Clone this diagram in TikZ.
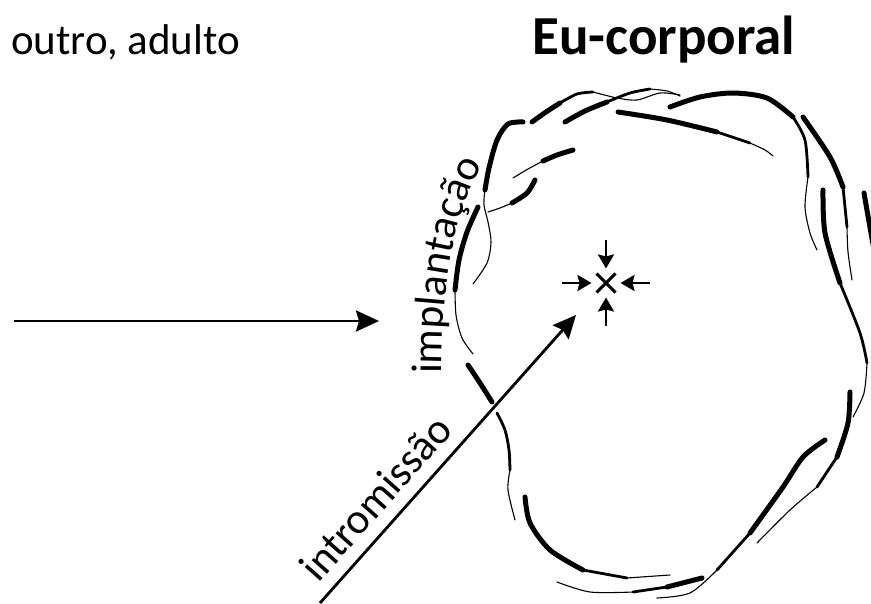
\documentclass[tikz,border=0pt]{standalone}
\usepackage{fontspec}
\setmainfont{Carlito}
\usetikzlibrary{arrows.meta,shapes.misc,decorations.text}

\begin{document}
\begin{tikzpicture}[
    x=1pt, y=-1pt,
every node/.style = {inner sep=0pt},
    heavyline/.style = {line width=5pt, line cap=round},
    midline/.style = {line width=2.8pt, line cap=round},
    fineline/.style = {line width=1.1pt, line cap=round},
    bigarrow/.style = {line width=2.8pt, -{Stealth[length=23pt,width=21pt,inset=3pt]}},
    smallarrow/.style = {line width=2.6pt, -{Stealth[length=14pt,width=16pt,inset=2pt]}, shorten >=5pt}]
\useasboundingbox (0,0) rectangle (871,604);

% titles
\node[anchor=base west, font=\fontsize{43}{50}\selectfont] (other) at (11,55) {outro, adulto};
\node[anchor=base west, font=\fontsize{55}{62}\selectfont\bfseries] (self) at (532,55) {Eu-corporal};

% outline of the body
\draw[heavyline] plot[smooth] coordinates {(523,122) (508,124) (497,140) (489,168) (485,190)};
\draw[fineline] plot[smooth] coordinates {(485,188) (484,205) (488,222) (491,242) (487,263) (473,284)};
\draw[heavyline] plot[smooth] coordinates {(478,207) (467,232) (459,260) (455,290)};
\draw[fineline] plot[smooth] coordinates {(455,288) (456,315) (462,338) (473,354)};

\draw[heavyline] plot[smooth] coordinates {(532,122) (546,112) (560,103)};
\draw[midline] plot[smooth] coordinates {(560,103) (577,94) (593,92)};
\draw[fineline] plot[smooth] coordinates {(593,92) (617,98) (637,100) (660,93) (680,95)};
\draw[heavyline] plot[smooth] coordinates {(565,122) (585,111) (607,102)};
\draw[midline] plot[smooth] coordinates {(607,102) (630,93) (650,89)};
\draw[fineline] plot[smooth] coordinates {(650,89) (667,91) (680,96)};

\draw[heavyline] plot[smooth] coordinates {(618,112) (667,120) (717,132)};
\draw[midline] plot[smooth] coordinates {(717,132) (750,143)};
\draw[fineline] plot[smooth] coordinates {(750,143) (765,150) (773,156)};

\draw[heavyline] plot[smooth] coordinates {(670,107) (700,97) (733,93) (767,98) (793,117)};
\draw[midline] plot[smooth] coordinates {(793,117) (805,140) (808,177)};
\draw[fineline] plot[smooth] coordinates {(808,177) (805,207) (810,233) (817,250)};

\draw[heavyline] plot[smooth] coordinates {(803,117) (830,157) (843,187)};
\draw[midline] plot[smooth] coordinates {(843,187) (847,227)};
\draw[fineline] plot[smooth] coordinates {(847,227) (848,252) (852,280)};

\draw[heavyline] plot[smooth] coordinates {(823,190) (825,233) (840,283)};
\draw[midline] plot[smooth] coordinates {(840,283) (860,333) (867,363)};
\draw[fineline] plot[smooth] coordinates {(867,363) (864,393) (853,417)};

\draw[heavyline] plot[smooth] coordinates {(864,193) (871,233) (875,255)};

\draw[heavyline] plot[smooth] coordinates {(573,150) (557,155) (543,161)};
\draw[fineline] plot[smooth] coordinates {(543,161) (528,169) (513,178)};
\draw[heavyline] plot[smooth] coordinates {(535,180) (527,193) (512,203)};
\draw[fineline] plot[smooth] coordinates {(512,203) (500,208) (488,212)};

\draw[heavyline] plot[smooth] coordinates {(468,365) (480,383) (492,402)};
\draw[midline] plot[smooth] coordinates {(497,413) (505,430) (509,450) (510,470)};
\draw[fineline] plot[smooth] coordinates {(510,470) (508,490) (515,520)};

\draw[heavyline] plot[smooth] coordinates {(525,497) (530,523) (550,550) (583,570)};
\draw[midline] plot[smooth] coordinates {(583,570) (627,578)};
\draw[fineline] plot[smooth] coordinates {(627,578) (670,575)};
\draw[fineline] plot[smooth] coordinates {(557,582) (590,592) (633,592)};
\draw[midline] plot[smooth] coordinates {(633,592) (667,587)};
\draw[heavyline] plot[smooth] coordinates {(667,587) (702,578)};

\draw[fineline] plot[smooth] coordinates {(657,598) (690,593) (717,570)};
\draw[midline] plot[smooth] coordinates {(717,570) (750,533)};
\draw[heavyline] plot[smooth] coordinates {(750,533) (783,487) (803,457) (825,440)};

\draw[heavyline] plot[smooth] coordinates {(850,392) (848,423) (837,457)};
\draw[midline] plot[smooth] coordinates {(837,457) (817,487)};
\draw[fineline] plot[smooth] coordinates {(817,487) (790,510) (757,543)};

% arrows from outside
\coordinate (from) at (14,321);
\coordinate (rim) at (379,321);
\draw[bigarrow] (from) -- (rim);

\coordinate (entry) at (320,603);
\coordinate (aim) at (576,315);
\draw[bigarrow] (entry) -- node[sloped, above=12pt, pos=0.3, font=\fontsize{43}{50}\selectfont] (intr) {intromissão} (aim);

% curved label along the rim
\path[decorate, decoration={text along path, text format delimiters={|}{|},
    text={|\fontsize{43}{50}\selectfont|implantação}}]
    (442,374) .. controls (442,290) and (450,215) .. (490,152);

% the core
\node[cross out, draw, minimum size=16pt, line width=3pt] (core) at (606,283) {};
\coordinate (cn) at (606,240);
\coordinate (cs) at (606,326);
\coordinate (cw) at (562,283);
\coordinate (ce) at (650,283);
\foreach \c in {cn,cs,cw,ce}
    \draw[smallarrow] (\c) -- (core);
\end{tikzpicture}
\end{document}
